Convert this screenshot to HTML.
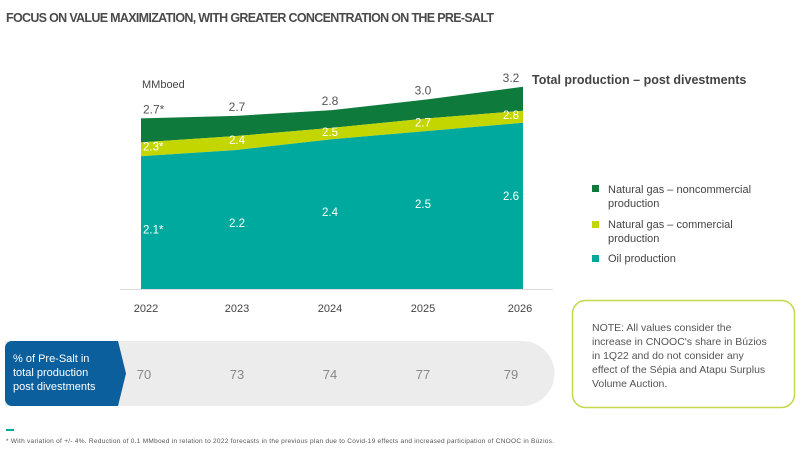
<!DOCTYPE html>
<html><head><meta charset="utf-8"><style>
body{margin:0;background:#fff;width:802px;height:452px;overflow:hidden;font-family:"Liberation Sans",sans-serif;}
svg text{font-family:"Liberation Sans",sans-serif;}
</style></head><body>
<svg id="c" width="802" height="452" viewBox="0 0 802 452" xmlns="http://www.w3.org/2000/svg">
<text x="6" y="22" font-size="12.5" font-weight="bold" fill="#4a4a4a" textLength="488">FOCUS ON VALUE MAXIMIZATION, WITH GREATER CONCENTRATION ON THE PRE-SALT</text>
<text x="142" y="88" font-size="11" fill="#444">MMboed</text>
<g id="areas"></g>
<line x1="120" y1="289.5" x2="553" y2="289.5" stroke="#ddd" stroke-width="1"/>
<g id="labels"></g>
<text x="532" y="84" font-size="12.5" font-weight="bold" fill="#444">Total production – post divestments</text>
<g>
<rect x="592" y="185" width="7" height="7" fill="#0e7a3c"/>
<text x="608" y="193" font-size="11" fill="#444">Natural gas – noncommercial</text>
<text x="608" y="207" font-size="11" fill="#444">production</text>
<rect x="592" y="221" width="7" height="7" fill="#c4d600"/>
<text x="608" y="228" font-size="11" fill="#444">Natural gas – commercial</text>
<text x="608" y="242" font-size="11" fill="#444">production</text>
<rect x="592" y="255" width="7" height="7" fill="#00a99d"/>
<text x="608" y="262" font-size="11" fill="#444">Oil production</text>
</g>
<g id="presalt">
<path d="M5,341 H522 A32.5,32.5 0 0 1 522,406 H5 Z" fill="#ececec"/>
<path d="M12,341 H118 L126,373.5 L118,406 H12 A7,7 0 0 1 5,399 V348 A7,7 0 0 1 12,341 Z" fill="#0b5f9c"/>
<text x="13" y="362" font-size="11" fill="#fff">% of Pre-Salt in</text>
<text x="13" y="376" font-size="11" fill="#fff">total production</text>
<text x="13" y="390" font-size="11" fill="#fff">post divestments</text>
</g>
<rect x="572.5" y="300.5" width="222" height="107" rx="13" fill="#fff" stroke="#c4d84a" stroke-width="1.5"/>
<g font-size="10.5" fill="#555">
<text x="592" y="331">NOTE: All values consider the</text>
<text x="592" y="345">increase in CNOOC's share in Búzios</text>
<text x="592" y="359">in 1Q22 and do not consider any</text>
<text x="592" y="373">effect of the Sépia and Atapu Surplus</text>
<text x="592" y="387">Volume Auction.</text>
</g>
<rect x="6" y="429" width="8" height="2" fill="#00a99d"/>
<text x="6" y="443" font-size="6.5" fill="#555" textLength="548">* With variation of +/- 4%. Reduction of 0.1 MMboed in relation to 2022 forecasts in the previous plan due to Covid-19 effects and increased participation of CNOOC in Búzios.</text>
</svg>
<script>
const years = ["2022","2023","2024","2025","2026"];
const oil = [2.1, 2.2, 2.37, 2.5, 2.63];
const commercialTop = [2.32, 2.42, 2.55, 2.7, 2.82];
const totalTop = [2.7, 2.74, 2.83, 3.0, 3.2];
const oilLabels = ["2.1*","2.2","2.4","2.5","2.6"];
const commLabels = ["2.3*","2.4","2.5","2.7","2.8"];
const totalLabels = ["2.7*","2.7","2.8","3.0","3.2"];
const presalt = ["70","73","74","77","79"];

const NS="http://www.w3.org/2000/svg";
const x0=141,x1=523,y0=289,pxPerUnit=63.2;
const xs=i=>x0+i*(x1-x0)/(years.length-1);
const ys=v=>y0-v*pxPerUnit;
function area(top,bottom,color,name){
  let d="M"+xs(0)+","+ys(top[0]);
  for(let i=1;i<top.length;i++) d+=" L"+xs(i)+","+ys(top[i]);
  for(let i=top.length-1;i>=0;i--) d+=" L"+xs(i)+","+(bottom?ys(bottom[i]):y0);
  const p=document.createElementNS(NS,"path");
  p.setAttribute("d",d+" Z");p.setAttribute("fill",color);
  
  
  document.getElementById("areas").appendChild(p);
}
area(totalTop,commercialTop,"#0e7a3c","area-noncommercial-gas");
area(commercialTop,oil,"#c4d600","area-commercial-gas");
area(oil,null,"#00a99d","area-oil");
const L=document.getElementById("labels");
function txt(x,y,s,fill,size,anchor,name){
  const t=document.createElementNS(NS,"text");
  t.setAttribute("x",x);t.setAttribute("y",y);t.setAttribute("fill",fill);
  t.setAttribute("font-size",size);t.setAttribute("text-anchor",anchor);
  t.textContent=s;
  
  
  L.appendChild(t);return t;
}
const lx=[152,237,330,423,511];
for(let i=0;i<years.length;i++){
  const a=i==0?"start":"middle";
  const bx=i==0?143:lx[i];
  txt(i==0?146:(i==4?520:lx[i]),312,years[i],"#444",11,"middle","x-tick-label");
  txt(bx,ys(totalTop[i])-5,totalLabels[i],"#555",12,a,"total-value-label");
  txt(bx,ys(commercialTop[i])+8,commLabels[i],"#fff",11.5,a,"commercial-value-label");
  txt(bx,ys(oil[i])+77,oilLabels[i],"#fff",11.5,a,"oil-value-label");
  const pt=document.createElementNS(NS,"text");
  pt.setAttribute("x",[144,237,330,423,511][i]);pt.setAttribute("y",379);
  pt.setAttribute("font-size",13);pt.setAttribute("fill","#888");pt.setAttribute("text-anchor","middle");
  pt.textContent=presalt[i];
  
  
  document.getElementById("presalt").appendChild(pt);
}
</script>
</body></html>
